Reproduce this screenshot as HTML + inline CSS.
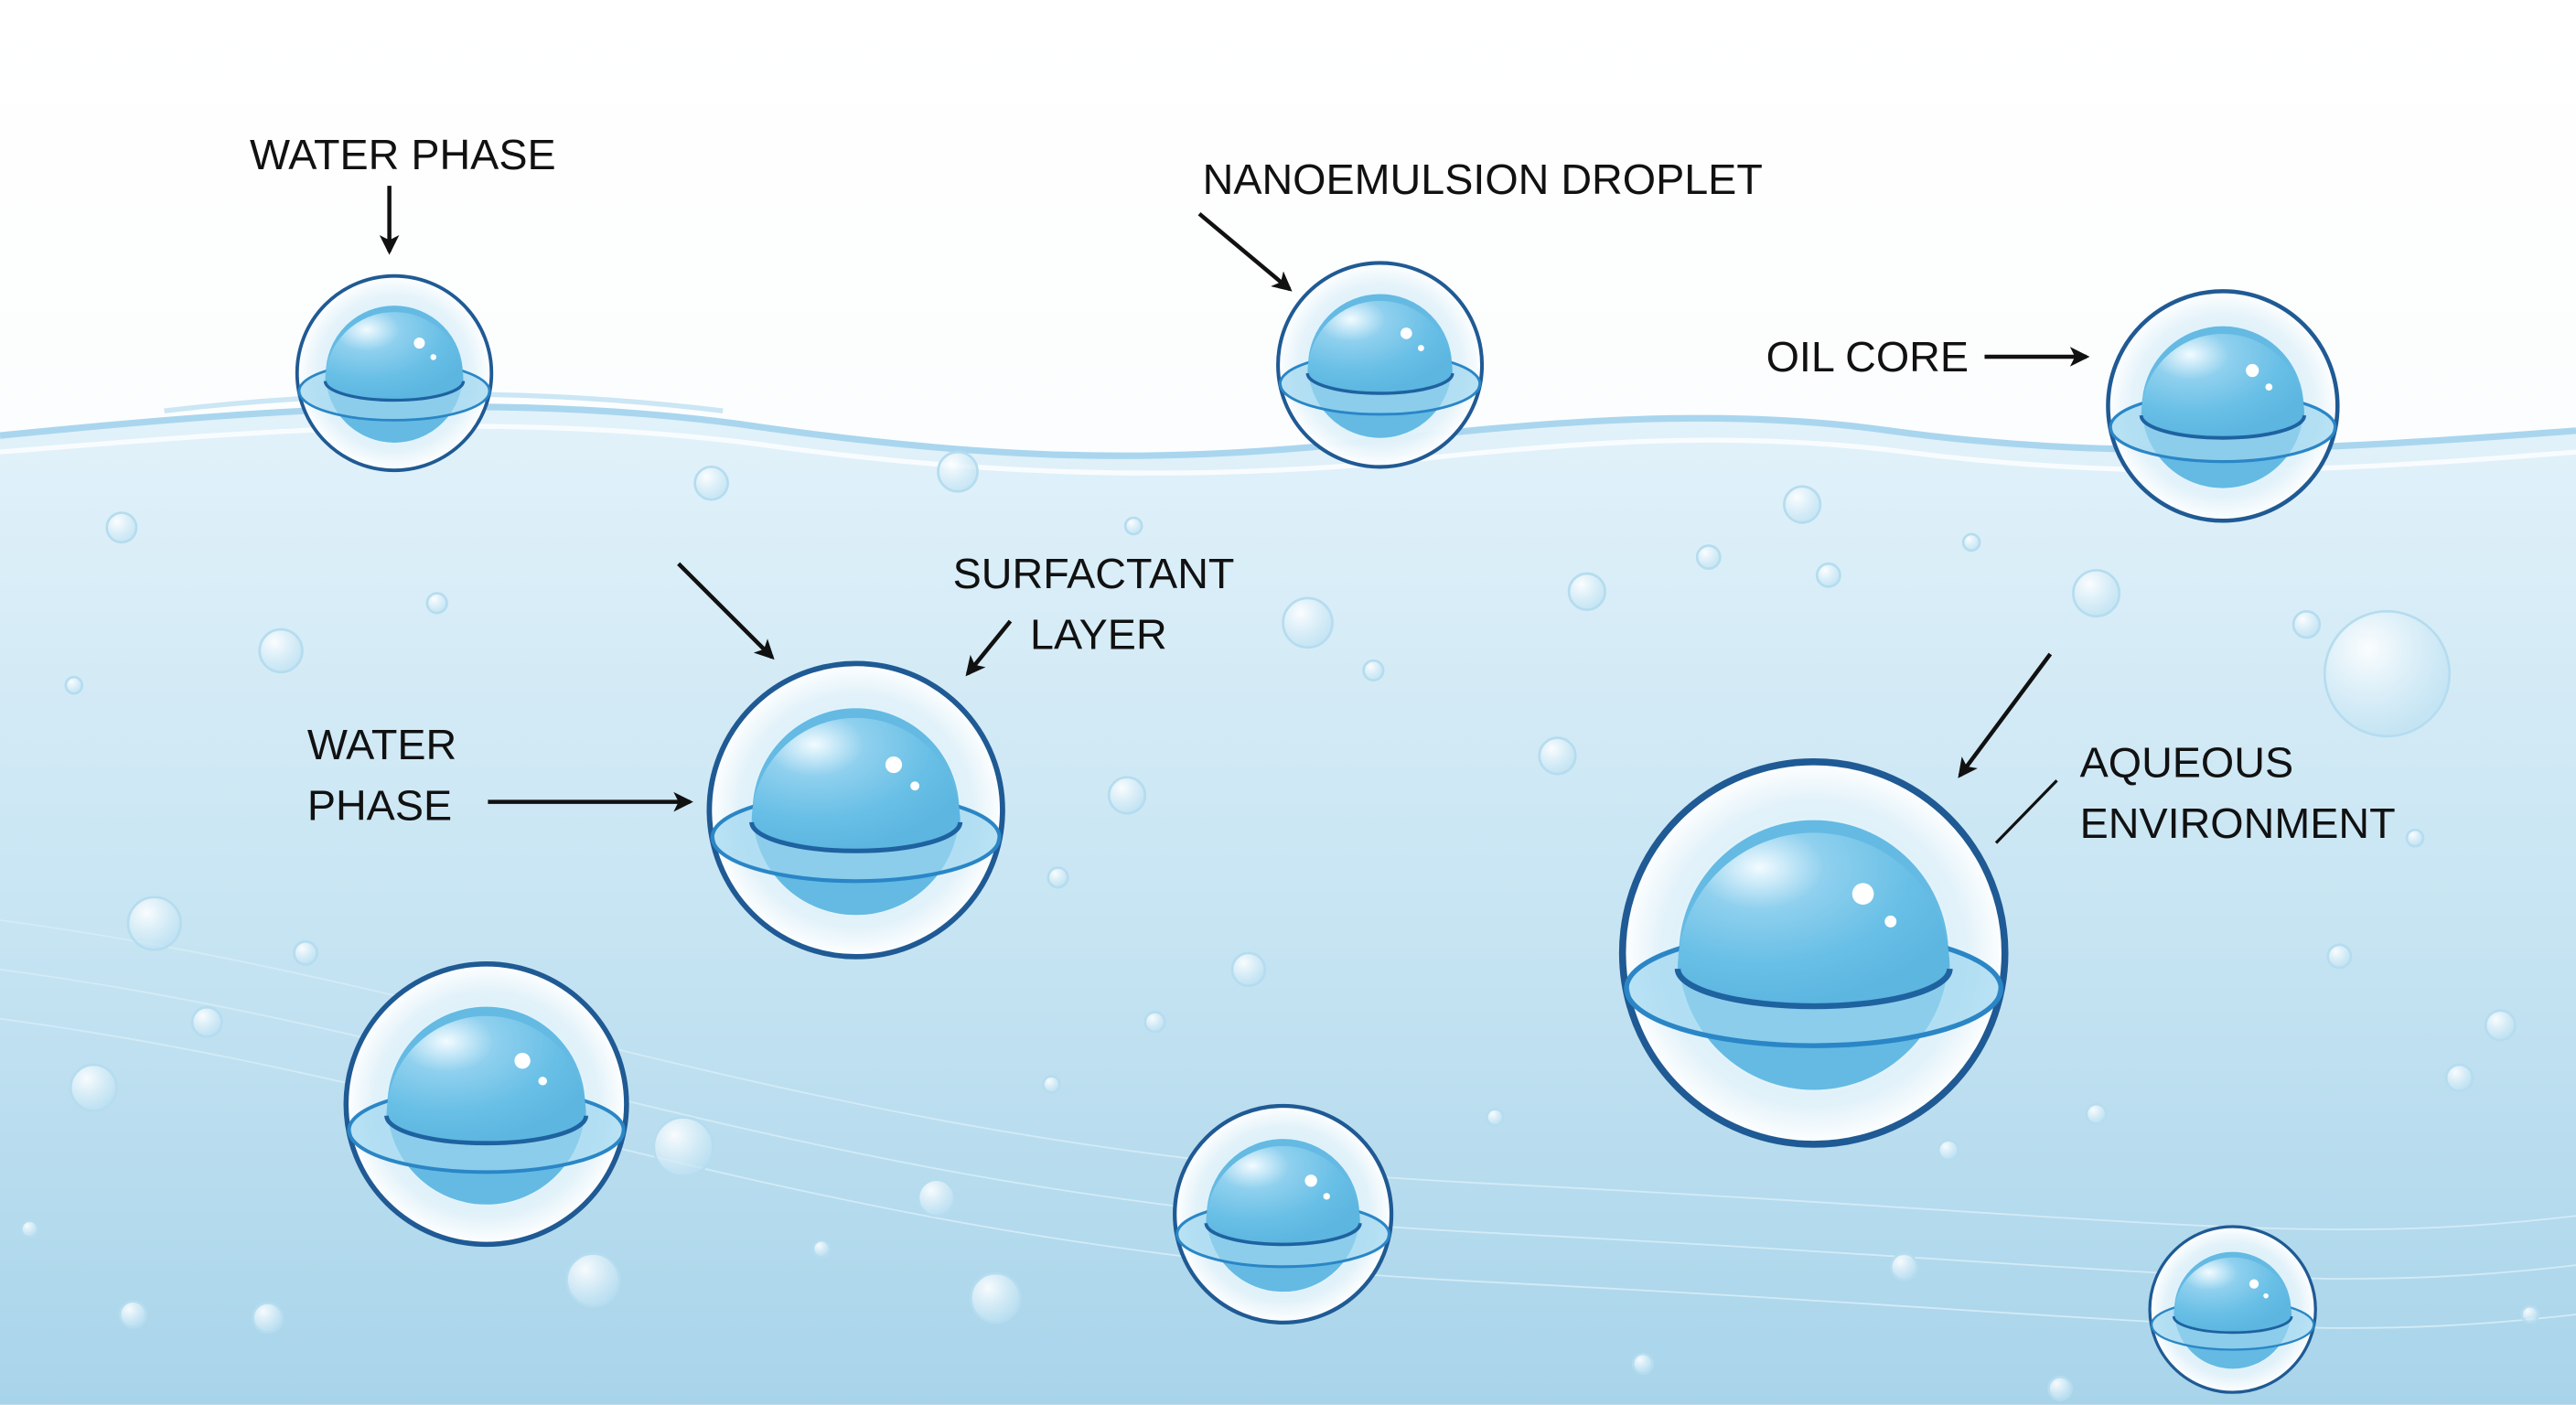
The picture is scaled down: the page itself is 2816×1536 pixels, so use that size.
<!DOCTYPE html>
<html><head><meta charset="utf-8">
<style>
html,body{margin:0;padding:0;width:2816px;height:1536px;overflow:hidden;background:#fff}
svg{display:block}
text{font-family:"Liberation Sans",sans-serif;font-size:26px;fill:#111}
</style></head><body>
<svg width="2816" height="1536" viewBox="0 0 1568 855" xmlns="http://www.w3.org/2000/svg">
<defs>
<linearGradient id="water" x1="0" y1="0" x2="0" y2="1">
<stop offset="0" stop-color="#e2f2fa"/><stop offset="0.5" stop-color="#c8e5f3"/><stop offset="1" stop-color="#a8d4ea"/>
</linearGradient>
<linearGradient id="sky" x1="0" y1="0" x2="0" y2="1">
<stop offset="0" stop-color="#ffffff"/><stop offset="1" stop-color="#f4f9fc"/>
</linearGradient>
<radialGradient id="outer" cx="0.5" cy="0.5" r="0.5">
<stop offset="0" stop-color="#c6e6f5" stop-opacity="0.9"/><stop offset="0.8" stop-color="#e4f3fa" stop-opacity="0.95"/><stop offset="1" stop-color="#ffffff"/>
</radialGradient>
<radialGradient id="core" cx="0.3" cy="0.2" r="0.8">
<stop offset="0" stop-color="#f2fbff"/><stop offset="0.3" stop-color="#8fd0ee"/><stop offset="0.7" stop-color="#68bfe6"/><stop offset="1" stop-color="#5cb6e0"/>
</radialGradient>
<radialGradient id="bub" cx="0.35" cy="0.3" r="0.7">
<stop offset="0" stop-color="#ffffff" stop-opacity="0.9"/><stop offset="1" stop-color="#bfe2f3" stop-opacity="0.7"/>
</radialGradient>
<marker id="ah" markerWidth="12" markerHeight="12" refX="10" refY="6" orient="auto" markerUnits="userSpaceOnUse">
<path d="M0,0 L12,6 L0,12 L3,6 Z" fill="#111"/>
</marker>
<symbol id="drop" viewBox="-1 -1 2 2" overflow="visible">
<circle cx="0" cy="0" r="0.97" fill="url(#outer)" stroke="#1f5a94" stroke-width="0.035"/>
<circle cx="0" cy="0.01" r="0.69" fill="#64bae3" stroke="#e0f3fb" stroke-width="0.012"/>
<ellipse cx="0" cy="0.18" rx="0.95" ry="0.29" fill="#9dd5f0" fill-opacity="0.7" stroke="#2a86c6" stroke-width="0.025"/>
<path d="M-0.69,0.08 A0.69,0.69 0 0 1 0.69,0.08 A0.69,0.19 0 0 1 -0.69,0.08 Z" fill="url(#core)"/>
<path d="M-0.69,0.08 A0.69,0.19 0 0 0 0.69,0.08" fill="none" stroke="#1e62a0" stroke-width="0.03"/>
<circle cx="0.25" cy="-0.3" r="0.055" fill="#fff"/>
<circle cx="0.39" cy="-0.16" r="0.03" fill="#fff"/>
</symbol>
</defs>
<rect width="1568" height="855" fill="url(#sky)"/>
<path d="M0,265 C150,250 300,238 450,258 C600,280 700,282 820,270 C950,255 1050,248 1150,262 C1280,280 1400,275 1568,262 L1568,855 L0,855 Z" fill="url(#water)"/>
<path d="M0,265 C150,250 300,238 450,258 C600,280 700,282 820,270 C950,255 1050,248 1150,262 C1280,280 1400,275 1568,262" fill="none" stroke="#a9d6ee" stroke-width="4"/>
<path d="M0,275 C160,262 300,250 460,270 C600,290 720,292 840,282 C960,268 1060,262 1160,275 C1290,292 1410,288 1568,275" fill="none" stroke="#ffffff" stroke-width="3" opacity="0.8"/>
<path d="M100,250 C200,238 320,235 440,250" fill="none" stroke="#cbe6f4" stroke-width="3"/>
<g fill="none" stroke="#d3ebf6" stroke-width="1">
<path d="M0,560 C300,600 500,700 900,720 S1400,760 1568,740"/>
<path d="M0,590 C300,630 500,730 900,750 S1400,790 1568,770"/>
<path d="M0,620 C300,660 500,760 900,780 S1400,820 1568,800"/>
</g>
<g fill="url(#bub)" stroke="#b5dcef" stroke-width="1.5">
<circle cx="1453" cy="410" r="38"/>
<circle cx="94" cy="562" r="16"/><circle cx="57" cy="662" r="14"/><circle cx="416" cy="698" r="18"/>
<circle cx="361" cy="779" r="16"/><circle cx="606" cy="790" r="15"/><circle cx="796" cy="379" r="15"/>
<circle cx="1276" cy="361" r="14"/><circle cx="966" cy="360" r="11"/><circle cx="171" cy="396" r="13"/>
<circle cx="433" cy="294" r="10"/><circle cx="583" cy="287" r="12"/><circle cx="1097" cy="307" r="11"/>
<circle cx="948" cy="460" r="11"/><circle cx="686" cy="484" r="11"/><circle cx="570" cy="729" r="11"/>
<circle cx="760" cy="590" r="10"/><circle cx="1522" cy="624" r="9"/><circle cx="1497" cy="656" r="8"/>
<circle cx="74" cy="321" r="9"/><circle cx="126" cy="622" r="9"/><circle cx="163" cy="802" r="9"/>
<circle cx="81" cy="800" r="8"/><circle cx="1159" cy="771" r="8"/><circle cx="1040" cy="339" r="7"/>
<circle cx="1113" cy="350" r="7"/><circle cx="1404" cy="380" r="8"/><circle cx="1424" cy="582" r="7"/>
<circle cx="266" cy="367" r="6"/><circle cx="186" cy="580" r="7"/><circle cx="1254" cy="845" r="7"/>
<circle cx="836" cy="408" r="6"/><circle cx="644" cy="534" r="6"/><circle cx="703" cy="622" r="6"/>
<circle cx="1276" cy="678" r="6"/><circle cx="1186" cy="700" r="6"/><circle cx="1470" cy="510" r="5"/>
<circle cx="45" cy="417" r="5"/><circle cx="18" cy="748" r="5"/><circle cx="1540" cy="800" r="5"/>
<circle cx="690" cy="320" r="5"/><circle cx="1200" cy="330" r="5"/><circle cx="1000" cy="830" r="6"/>
<circle cx="500" cy="760" r="5"/><circle cx="640" cy="660" r="5"/><circle cx="910" cy="680" r="5"/>
</g>
<use href="#drop" x="179" y="166" width="122" height="122"/>
<use href="#drop" x="776" y="158" width="128" height="128"/>
<use href="#drop" x="1281" y="175" width="144" height="144"/>
<use href="#drop" x="429" y="401" width="184" height="184"/>
<use href="#drop" x="984" y="460" width="240" height="240"/>
<use href="#drop" x="208" y="584" width="176" height="176"/>
<use href="#drop" x="713" y="671" width="136" height="136"/>
<use href="#drop" x="1307" y="745" width="104" height="104"/>
<g stroke="#111" stroke-width="2.5" fill="none">
<line x1="237" y1="113" x2="237" y2="153" marker-end="url(#ah)"/>
<line x1="730" y1="130" x2="785" y2="176" marker-end="url(#ah)"/>
<line x1="1208" y1="217" x2="1270" y2="217" marker-end="url(#ah)"/>
<line x1="413" y1="343" x2="470" y2="400" marker-end="url(#ah)"/>
<line x1="615" y1="378" x2="589" y2="410" marker-end="url(#ah)"/>
<line x1="297" y1="488" x2="420" y2="488" marker-end="url(#ah)"/>
<line x1="1248" y1="398" x2="1193" y2="472" marker-end="url(#ah)"/>
<line x1="1252" y1="475" x2="1215" y2="513" stroke-width="1.8"/>
</g>
<text x="152" y="103">WATER PHASE</text>
<text x="732" y="118">NANOEMULSION DROPLET</text>
<text x="1075" y="226">OIL CORE</text>
<text x="580" y="358">SURFACTANT</text>
<text x="627" y="395">LAYER</text>
<text x="187" y="462">WATER</text>
<text x="187" y="499">PHASE</text>
<text x="1266" y="473">AQUEOUS</text>
<text x="1266" y="510">ENVIRONMENT</text>
</svg>
</body></html>
